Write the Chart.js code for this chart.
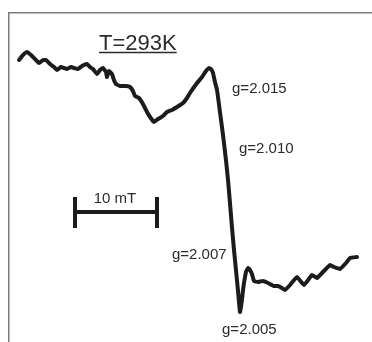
<!DOCTYPE html>
<html>
<head>
<meta charset="utf-8">
<script src="https://cdn.jsdelivr.net/npm/chart.js@4/dist/chart.umd.min.js"></script>
<style>
  html, body { margin: 0; padding: 0; background: #fff; }
  #wrap { width: 372px; height: 342px; }
</style>
</head>
<body>
<div id="wrap"><canvas id="epr" width="372" height="342"></canvas></div>
<script>
// Espectro EPR a T=293K: campo relativo (mT) contra señal (u.a.)
const campo = [
  1.22, 1.71, 2.20, 2.68, 3.17, 3.66, 4.15, 4.51, 5.00, 5.49,
  5.85, 6.34, 6.71, 7.07, 7.56, 7.93, 8.41, 8.90, 9.51, 9.88,
  10.24, 10.73, 11.10, 11.46, 11.83, 11.95, 12.20, 12.56, 12.80, 13.05,
  13.54, 14.27, 14.76, 15.12, 15.37, 15.85, 16.34, 16.83, 17.20, 17.68,
  18.17, 18.78, 19.27, 19.88, 20.49, 21.22, 21.71, 22.07, 22.93, 23.54,
  24.02, 24.39, 24.63, 24.88, 25.12, 25.37, 25.73, 26.10, 26.46, 26.71,
  26.95, 27.20, 27.44, 27.68, 27.93, 28.17, 28.41, 28.54, 28.66, 28.90,
  29.15, 29.39, 29.63, 29.88, 30.37, 30.98, 31.59, 32.32, 32.80, 33.29,
  33.66, 34.27, 35.12, 35.98, 36.95, 37.56, 38.17, 39.15, 39.63, 40.37,
  41.10, 41.59, 42.44
];
const senal = [
  11.5, 12.0, 12.3, 12.0, 11.6, 11.2, 11.5, 11.5, 11.1, 10.8,
  10.5, 10.8, 10.7, 10.6, 10.8, 10.7, 10.6, 10.9, 11.1, 10.8,
  10.6, 10.1, 10.5, 10.7, 10.3, 9.8, 10.4, 10.1, 9.5, 9.1,
  8.9, 8.9, 8.8, 8.4, 7.9, 7.7, 7.1, 6.3, 5.8, 5.3,
  5.6, 5.9, 6.3, 6.5, 6.8, 7.2, 7.7, 8.2, 9.2, 9.8,
  10.4, 10.7, 10.6, 10.2, 9.3, 8.5, 6.3, 4.0, 1.5, -0.5,
  -2.8, -5.3, -7.5, -9.5, -11.6, -13.7, -12.5, -11.5, -10.8, -9.7,
  -9.3, -9.5, -9.9, -10.6, -10.7, -10.6, -10.8, -11.1, -11.1, -11.3,
  -11.5, -11.0, -10.2, -11.0, -10.0, -10.3, -9.8, -9.0, -9.2, -9.4,
  -8.8, -8.3, -8.2
];

// Etiquetas de g: texto, campo (inicio del texto) y señal (línea base)
const etiquetas = ['g=2.015', 'g=2.010', 'g=2.007', 'g=2.005'];
const etqCampo = [27.2, 28.05, 19.88, 25.98];
const etqSenal = [8.2, 2.2, -8.4, -15.9];

const titulo = 'T=293K';
const tituloPos = [10.98, 12.5];

// Barra de escala de 10 mT
const barraTexto = '10 mT';
const barraInicio = 8.05;
const barraLargo = 10;
const barraY = -3.7, barraArriba = -2.2, barraAbajo = -5.3;

const puntos = campo.map((c, i) => ({ x: c, y: senal[i] }));
const barraFin = barraInicio + barraLargo;
const barra = [
  { x: barraInicio, y: barraArriba }, { x: barraInicio, y: barraAbajo }, { x: barraInicio, y: null },
  { x: barraInicio, y: barraY }, { x: barraFin, y: barraY }, { x: barraFin, y: null },
  { x: barraFin, y: barraArriba }, { x: barraFin, y: barraAbajo }
];

const FUENTE = '"Liberation Sans", Arial, sans-serif';

// Textos encima de la gráfica
const textos = {
  id: 'textos',
  afterDatasetsDraw(chart){
    const { ctx, scales: { x, y } } = chart;
    ctx.save();
    ctx.fillStyle = '#2b2b2b';
    ctx.textAlign = 'left';
    ctx.textBaseline = 'alphabetic';
    ctx.font = '15px ' + FUENTE;
    etiquetas.forEach((t, i) => {
      ctx.fillText(t, x.getPixelForValue(etqCampo[i]), y.getPixelForValue(etqSenal[i]));
    });
    // texto de la barra, centrado
    ctx.textAlign = 'center';
    ctx.fillText(barraTexto, x.getPixelForValue(barraInicio + barraLargo / 2) - 1, y.getPixelForValue(-2.8));
    // título subrayado
    ctx.textAlign = 'left';
    ctx.font = '22px ' + FUENTE;
    const tx = x.getPixelForValue(tituloPos[0]);
    const ty = y.getPixelForValue(tituloPos[1]);
    ctx.fillText(titulo, tx, ty);
    const w = ctx.measureText(titulo).width;
    ctx.strokeStyle = '#2b2b2b';
    ctx.lineWidth = 1.5;
    ctx.beginPath();
    ctx.moveTo(tx, ty + 2.5);
    ctx.lineTo(tx + w, ty + 2.5);
    ctx.stroke();
    ctx.restore();
  }
};

new Chart(document.getElementById('epr').getContext('2d'), {
  type: 'line',
  data: {
    datasets: [
      { data: puntos, borderColor: '#1c1c1c', borderWidth: 4, pointRadius: 0, tension: 0.1, borderJoinStyle: 'round', borderCapStyle: 'round' },
      { data: barra, borderColor: '#1c1c1c', borderWidth: 4, pointRadius: 0, tension: 0, spanGaps: false, borderCapStyle: 'butt' }
    ]
  },
  plugins: [textos],
  options: {
    responsive: false,
    animation: false,
    events: [],
    layout: { padding: { left: 9, top: 13, right: 0, bottom: 0 } },
    plugins: { legend: { display: false }, tooltip: { enabled: false } },
    scales: {
      x: {
        type: 'linear', position: 'top', min: 0, max: 44.27,
        ticks: { display: false }, grid: { display: false, drawTicks: false },
        border: { display: true, color: '#7a7a7a', width: 1.5 }
      },
      y: {
        type: 'linear', position: 'left', min: -16.7, max: 16.2,
        ticks: { display: false }, grid: { display: false, drawTicks: false },
        border: { display: true, color: '#7a7a7a', width: 1.5 }
      }
    }
  }
});
</script>
</body>
</html>
